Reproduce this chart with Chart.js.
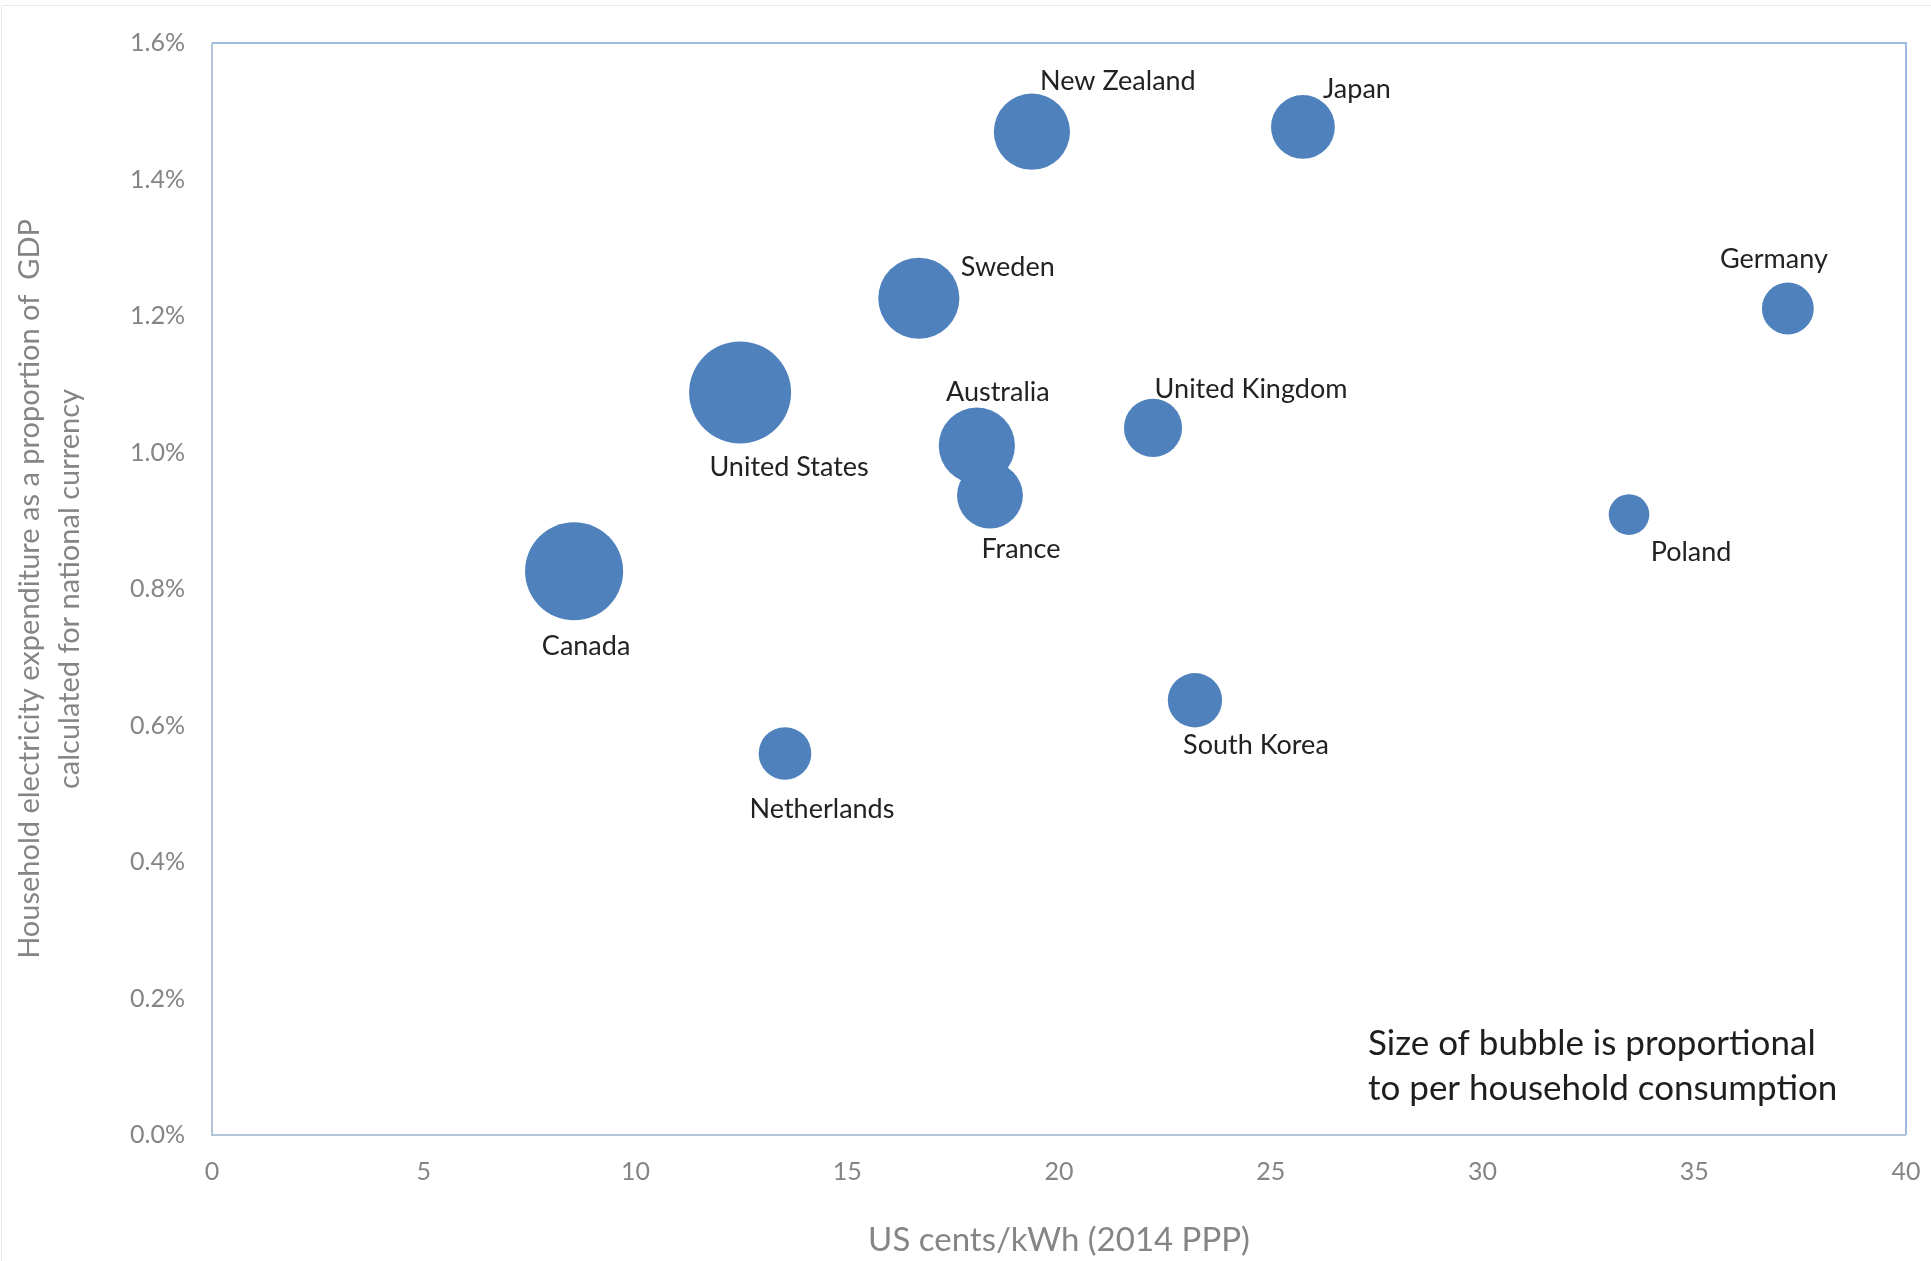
<!DOCTYPE html>
<html>
<head>
<meta charset="utf-8">
<title>Household electricity expenditure vs price</title>
<script src="https://cdn.jsdelivr.net/npm/chart.js@4/dist/chart.umd.min.js"></script>
<style>
  html, body { margin: 0; padding: 0; background: #fff; }
  #wrap { position: relative; width: 1931px; height: 1261px; overflow: hidden; }
  #frame { position: absolute; left: 1px; top: 5px; right: -2px; bottom: -2px; border-top: 1px solid #e9e9e9; border-left: 1px solid #e9e9e9; }
  #chart { position: absolute; left: 0; top: 0; }
</style>
</head>
<body>
<div id="wrap">
  <div id="frame"></div>
  <canvas id="chart" width="1931" height="1261"></canvas>
</div>
<script>
// data
const countries = ['New Zealand', 'Japan', 'Sweden', 'United States', 'Australia', 'France',
                   'United Kingdom', 'Germany', 'Poland', 'Canada', 'South Korea', 'Netherlands'];
const priceCents = [19.36, 25.76, 16.69, 12.47, 18.06, 18.37, 22.22, 37.21, 33.46, 8.55, 23.21, 13.53];   // US cents/kWh
const shareOfGdp = [1.47, 1.477, 1.226, 1.088, 1.010, 0.937, 1.036, 1.211, 0.909, 0.826, 0.637, 0.559];  // %
const consumption = [6.7, 4.7, 7.6, 12.0, 6.7, 5.0, 3.9, 3.1, 1.9, 11.1, 3.4, 3.2];  // relative per household
const xTicks = [0, 5, 10, 15, 20, 25, 30, 35, 40];
const yTicks = [0, 0.2, 0.4, 0.6, 0.8, 1.0, 1.2, 1.4, 1.6];

// label placement relative to bubble centre (style only)
const labelOffsets = [[86, -50], [54, -38], [89, -31], [49, 75], [21, -53], [31, 54],
                      [98, -39], [-14, -49], [62, 38], [12, 75], [61, 45], [37, 56]];

const maxRadius = 51;
const maxConsumption = Math.max(...consumption);

const points = countries.map((c, i) => ({
    x: priceCents[i],
    y: shareOfGdp[i],
    r: maxRadius * Math.sqrt(consumption[i] / maxConsumption)
}));

const fontFamily = 'Lato, "Open Sans", sans-serif';

const bubbleLabels = {
    id: 'bubbleLabels',
    afterDatasetsDraw(chart) {
        const ctx = chart.ctx;
        const meta = chart.getDatasetMeta(0);
        ctx.save();
        ctx.font = '27px ' + fontFamily;
        ctx.fillStyle = '#222';
        ctx.textAlign = 'center';
        ctx.textBaseline = 'middle';
        meta.data.forEach((el, i) => {
            const off = labelOffsets[i];
            ctx.fillText(countries[i], el.x + off[0], el.y + off[1]);
        });
        ctx.restore();
    }
};

const plotFrame = {
    id: 'plotFrame',
    afterDraw(chart) {
        const { ctx, chartArea: a } = chart;
        ctx.save();
        ctx.lineWidth = 2;
        ctx.strokeStyle = '#9dbbe0';
        ctx.beginPath();
        ctx.moveTo(a.left, a.top);
        ctx.lineTo(a.right, a.top);
        ctx.lineTo(a.right, a.bottom);
        ctx.stroke();
        ctx.strokeStyle = '#b3c3d8';
        ctx.beginPath();
        ctx.moveTo(a.left, a.top);
        ctx.lineTo(a.left, a.bottom);
        ctx.lineTo(a.right, a.bottom);
        ctx.stroke();

        // note in the lower right corner
        ctx.font = '35px ' + fontFamily;
        ctx.fillStyle = '#1e1e1e';
        ctx.textAlign = 'left';
        ctx.textBaseline = 'middle';
        ctx.fillText('Size of bubble is proportional', a.right - 538, a.bottom - 91);
        ctx.fillText('to per household consumption', a.right - 538, a.bottom - 46);
        ctx.restore();
    }
};

new Chart(document.getElementById('chart').getContext('2d'), {
    type: 'bubble',
    data: {
        datasets: [{
            label: 'Countries',
            data: points,
            backgroundColor: '#4f81bd',
            borderColor: '#4f81bd',
            borderWidth: 0
        }]
    },
    options: {
        responsive: false,
        animation: false,
        layout: { autoPadding: false, padding: { top: 43, right: 25, left: 0, bottom: 0 } },
        plugins: {
            legend: { display: false },
            tooltip: { enabled: false }
        },
        scales: {
            x: {
                type: 'linear',
                min: 0,
                max: 40,
                afterBuildTicks: (scale) => { scale.ticks = xTicks.map(v => ({ value: v })); },
                afterFit: (scale) => {
                    scale.height = 126;
                    scale.paddingLeft = 0;
                    scale.paddingRight = 0;
                },
                grid: { display: false, drawTicks: false },
                border: { display: false },
                ticks: {
                    color: '#858585',
                    font: { family: fontFamily, size: 25 },
                    padding: 22,
                    maxRotation: 0
                },
                title: {
                    display: true,
                    text: 'US cents/kWh (2014 PPP)',
                    color: '#858585',
                    font: { family: fontFamily, size: 33 },
                    padding: { top: 0, bottom: 1 }
                }
            },
            y: {
                type: 'linear',
                min: 0,
                max: 1.6,
                afterBuildTicks: (scale) => { scale.ticks = yTicks.map(v => ({ value: v })); },
                afterFit: (scale) => { scale.width = 212; },
                grid: { display: false, drawTicks: false },
                border: { display: false },
                ticks: {
                    color: '#858585',
                    font: { family: fontFamily, size: 25 },
                    padding: 27,
                    callback: (v) => v.toFixed(1) + '%'
                },
                title: {
                    display: true,
                    text: ['Household electricity expenditure as a proportion of  GDP',
                           'calculated for national currency'],
                    color: '#858585',
                    font: { family: fontFamily, size: 29, lineHeight: '40px' },
                    padding: { top: 10, bottom: 0 }
                }
            }
        }
    },
    plugins: [bubbleLabels, plotFrame]
});
</script>
</body>
</html>
